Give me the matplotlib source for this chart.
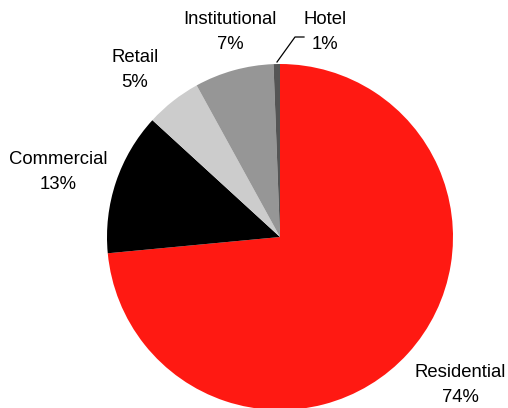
import matplotlib
matplotlib.use("Agg")
import matplotlib.pyplot as plt

categories = ["Residential", "Commercial", "Retail", "Institutional", "Hotel"]
values = [73.5, 13.3, 5.2, 7.4, 0.6]
pct_labels = ["74%", "13%", "5%", "7%", "1%"]
colors = ["#FF1912", "#000000", "#CCCCCC", "#969696", "#555555"]

plt.rcParams['font.family'] = ['Liberation Sans', 'DejaVu Sans']

fig = plt.figure(figsize=(5.08, 4.08), dpi=100)
ax = fig.add_axes([0, 0, 1, 1])

cx, cy, r = 280, 408 - 237, 173
wedges, _ = ax.pie(values, colors=colors, startangle=90, counterclock=False,
                   center=(cx, cy), radius=r, frame=True,
                   wedgeprops=dict(linewidth=0))
ax.set_xlim(0, 508)
ax.set_ylim(0, 408)
ax.set_aspect('equal')
ax.axis('off')

label_pos = {
    "Residential": (460, 408 - 385),
    "Commercial": (58, 408 - 172),
    "Retail": (135, 408 - 70),
    "Institutional": (230, 408 - 32),
    "Hotel": (325, 408 - 32),
}
for name, pct in zip(categories, pct_labels):
    x, y = label_pos[name]
    ax.text(x, y, f"{name}\n{pct}", ha='center', va='center', fontsize=13.3,
            linespacing=1.6, color='black')

# leader line for Hotel
ax.plot([277, 295, 304], [408 - 62, 408 - 37, 408 - 37], color='black', lw=0.9)

fig.savefig("out.png", dpi=100)
